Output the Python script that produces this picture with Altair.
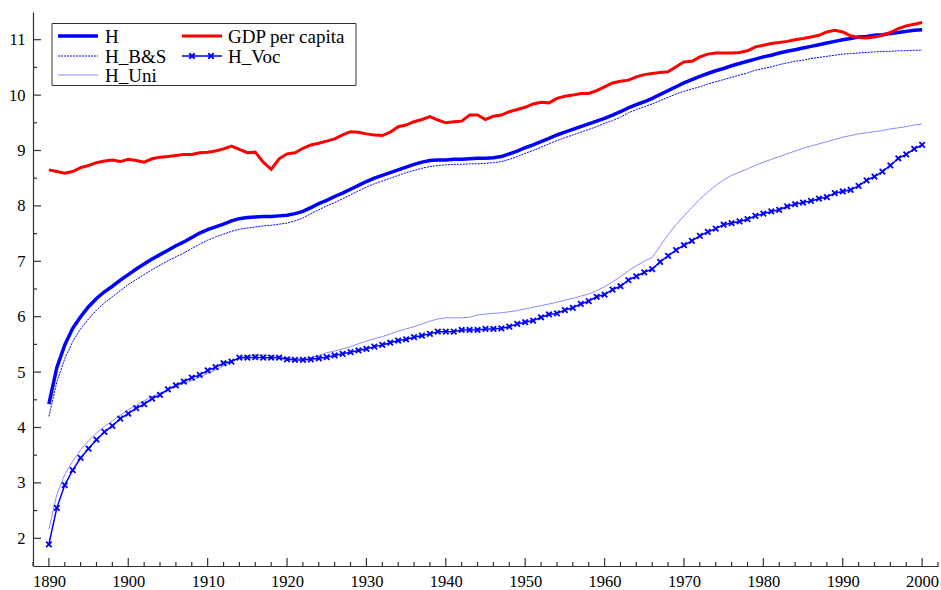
import altair as alt
import pandas as pd

# Annual series, 1890-2000 (log scale values)
years = list(range(1890, 2001))

h = [4.42, 5.08, 5.49, 5.79, 6.00, 6.18, 6.33, 6.45, 6.55, 6.66,
     6.76, 6.86, 6.95, 7.04, 7.12, 7.20, 7.28, 7.35, 7.43, 7.51,
     7.57, 7.62, 7.67, 7.73, 7.77, 7.79, 7.80, 7.81, 7.81, 7.82,
     7.83, 7.86, 7.90, 7.97, 8.04, 8.10, 8.17, 8.23, 8.30, 8.37,
     8.44, 8.50, 8.55, 8.60, 8.65, 8.70, 8.75, 8.79, 8.82, 8.83,
     8.83, 8.84, 8.84, 8.85, 8.86, 8.86, 8.87, 8.89, 8.94, 8.99,
     9.05, 9.10, 9.16, 9.22, 9.28, 9.33, 9.38, 9.43, 9.48, 9.53,
     9.58, 9.64, 9.70, 9.77, 9.83, 9.88, 9.94, 10.01, 10.08, 10.15,
     10.22, 10.28, 10.34, 10.39, 10.44, 10.48, 10.53, 10.57, 10.61, 10.65,
     10.69, 10.72, 10.76, 10.79, 10.82, 10.85, 10.88, 10.91, 10.94, 10.97,
     11.00, 11.02, 11.05, 11.06, 11.08, 11.09, 11.11, 11.13, 11.15, 11.17,
     11.18]

gdp = [8.65, 8.62, 8.59, 8.62, 8.69, 8.73, 8.78, 8.81, 8.83, 8.80,
       8.84, 8.82, 8.79, 8.85, 8.88, 8.89, 8.91, 8.93, 8.93, 8.96,
       8.97, 8.99, 9.03, 9.08, 9.02, 8.96, 8.97, 8.79, 8.66, 8.85,
       8.94, 8.96, 9.04, 9.10, 9.13, 9.17, 9.21, 9.28, 9.34, 9.33,
       9.30, 9.28, 9.27, 9.33, 9.43, 9.46, 9.52, 9.56, 9.61, 9.55,
       9.50, 9.52, 9.53, 9.64, 9.64, 9.56, 9.62, 9.64, 9.70, 9.74,
       9.78, 9.84, 9.87, 9.86, 9.94, 9.98, 10.00, 10.03, 10.03, 10.08,
       10.15, 10.22, 10.25, 10.27, 10.33, 10.37, 10.39, 10.41, 10.42, 10.51,
       10.60, 10.61, 10.69, 10.74, 10.76, 10.76, 10.76, 10.77, 10.80, 10.87,
       10.90, 10.93, 10.95, 10.97, 11.00, 11.02, 11.05, 11.08, 11.14, 11.17,
       11.14, 11.07, 11.04, 11.03, 11.05, 11.08, 11.13, 11.20, 11.25, 11.28,
       11.31]

h_bs = [4.20, 4.82, 5.24, 5.55, 5.78, 5.96, 6.12, 6.25, 6.36, 6.47,
        6.58, 6.67, 6.76, 6.85, 6.93, 7.01, 7.08, 7.15, 7.23, 7.31,
        7.38, 7.44, 7.49, 7.54, 7.58, 7.60, 7.62, 7.64, 7.65, 7.67,
        7.69, 7.73, 7.78, 7.86, 7.93, 8.00, 8.06, 8.13, 8.20, 8.27,
        8.34, 8.40, 8.45, 8.50, 8.55, 8.60, 8.64, 8.68, 8.71, 8.73,
        8.74, 8.75, 8.75, 8.76, 8.76, 8.77, 8.78, 8.80, 8.84, 8.89,
        8.95, 9.00, 9.06, 9.12, 9.18, 9.23, 9.28, 9.33, 9.38, 9.43,
        9.49, 9.54, 9.60, 9.68, 9.74, 9.79, 9.84, 9.90, 9.96, 10.02,
        10.07, 10.11, 10.15, 10.20, 10.24, 10.28, 10.32, 10.36, 10.40, 10.45,
        10.48, 10.51, 10.55, 10.58, 10.61, 10.63, 10.66, 10.68, 10.70, 10.72,
        10.74, 10.75, 10.76, 10.77, 10.78, 10.79, 10.79, 10.80, 10.80, 10.81,
        10.81]

h_uni = [2.16, 2.79, 3.15, 3.39, 3.60, 3.76, 3.90, 4.02, 4.12, 4.22,
         4.32, 4.40, 4.48, 4.56, 4.62, 4.68, 4.74, 4.80, 4.85, 4.91,
         4.98, 5.04, 5.11, 5.19, 5.26, 5.30, 5.31, 5.31, 5.30, 5.28,
         5.26, 5.24, 5.24, 5.26, 5.30, 5.35, 5.38, 5.42, 5.46, 5.51,
         5.56, 5.60, 5.64, 5.69, 5.74, 5.78, 5.82, 5.87, 5.92, 5.96,
         5.98, 5.98, 5.98, 5.99, 6.03, 6.05, 6.06, 6.07, 6.09, 6.11,
         6.14, 6.17, 6.20, 6.23, 6.26, 6.30, 6.33, 6.37, 6.41, 6.47,
         6.54, 6.63, 6.72, 6.83, 6.92, 7.00, 7.07, 7.28, 7.48, 7.66,
         7.82, 7.97, 8.12, 8.25, 8.37, 8.47, 8.55, 8.61, 8.67, 8.73,
         8.79, 8.84, 8.89, 8.94, 8.99, 9.04, 9.08, 9.12, 9.16, 9.20,
         9.24, 9.27, 9.30, 9.32, 9.34, 9.36, 9.39, 9.41, 9.43, 9.46,
         9.48]

h_voc = [1.89, 2.55, 2.96, 3.23, 3.45, 3.62, 3.78, 3.92, 4.03, 4.16,
         4.25, 4.35, 4.42, 4.52, 4.59, 4.69, 4.76, 4.83, 4.90, 4.95,
         5.03, 5.09, 5.16, 5.19, 5.26, 5.26, 5.27, 5.26, 5.26, 5.26,
         5.23, 5.22, 5.22, 5.23, 5.25, 5.27, 5.30, 5.33, 5.36, 5.39,
         5.42, 5.46, 5.49, 5.53, 5.57, 5.59, 5.63, 5.66, 5.69, 5.73,
         5.73, 5.73, 5.76, 5.76, 5.76, 5.78, 5.78, 5.79, 5.82, 5.87,
         5.90, 5.93, 5.99, 6.04, 6.06, 6.12, 6.16, 6.23, 6.28, 6.36,
         6.40, 6.49, 6.55, 6.66, 6.73, 6.80, 6.86, 6.99, 7.10, 7.20,
         7.29, 7.37, 7.46, 7.53, 7.59, 7.66, 7.69, 7.72, 7.76, 7.82,
         7.86, 7.90, 7.93, 7.99, 8.03, 8.06, 8.09, 8.13, 8.16, 8.23,
         8.26, 8.29, 8.36, 8.46, 8.53, 8.62, 8.73, 8.86, 8.93, 9.03,
         9.10]

series_names = ["H", "GDP per capita", "H_B&S", "H_Voc", "H_Uni"]

x_major = list(range(1890, 2001, 10))
x_minor = [v for v in range(1888, 2003, 2) if v % 10 != 0]
y_major = list(range(2, 12))
y_minor = [v + 0.5 for v in range(2, 11)]

df = pd.DataFrame({"year": years, "H": h, "GDP": gdp, "H_BS": h_bs,
                   "H_Uni": h_uni, "H_Voc": h_voc})

W, HT = 905, 554
FONT = "Liberation Serif"
BLUE = "#0000ff"
AXIS_COLOR = "#333333"

xs = alt.Scale(domain=[1888, 2002], nice=False, zero=False)
ys = alt.Scale(domain=[1.5, 11.5], nice=False, zero=False)

x_axis = alt.Axis(values=x_major, format="d", title=None, ticks=False, tickSize=0,
                  labelPadding=7, labelFont=FONT, labelFontSize=16.5, labelColor="black",
                  domainColor=AXIS_COLOR, domainWidth=1.2, grid=False,
                  labelFlush=False, labelOverlap=False)
y_axis = alt.Axis(values=y_major, format="d", title=None, ticks=False, tickSize=0,
                  labelPadding=8, labelFont=FONT, labelFontSize=16.5, labelColor="black",
                  domainColor=AXIS_COLOR, domainWidth=1.2, grid=False,
                  labelFlush=False, labelOverlap=False)

base = alt.Chart(df)


def series_line(field, **mark):
    return base.mark_line(**mark).encode(
        x=alt.X("year:Q", scale=xs, axis=x_axis),
        y=alt.Y(f"{field}:Q", scale=ys, axis=y_axis),
    )


X_PATH = "M-1,-1L1,1M-1,1L1,-1"

uni = series_line("H_Uni", color="#8a8aff", strokeWidth=1)
bs = series_line("H_BS", color=BLUE, strokeWidth=1, strokeDash=[2, 1])
voc = series_line("H_Voc", color=BLUE, strokeWidth=1.5)
voc_pts = base.mark_point(shape=X_PATH, size=30, strokeWidth=1.8, color=BLUE,
                          filled=False, opacity=1).encode(
    x=alt.X("year:Q", scale=xs, axis=x_axis),
    y=alt.Y("H_Voc:Q", scale=ys, axis=y_axis),
)
h_line = series_line("H", color=BLUE, strokeWidth=3.5)
gdp_line = series_line("GDP", color="#ff0000", strokeWidth=3)


# inward tick marks on both axes
def x_ticks(vals, length):
    return alt.Chart(pd.DataFrame({"t": vals})).mark_rule(
        color=AXIS_COLOR, strokeWidth=1.2).encode(
        x=alt.X("t:Q", scale=xs, axis=x_axis),
        y=alt.value(HT), y2=alt.value(HT - length))


def y_ticks(vals, length):
    return alt.Chart(pd.DataFrame({"t": vals})).mark_rule(
        color=AXIS_COLOR, strokeWidth=1.2).encode(
        y=alt.Y("t:Q", scale=ys, axis=y_axis),
        x=alt.value(0), x2=alt.value(length))


ticks = [x_ticks(x_major, 8), x_ticks(x_minor, 4), y_ticks(y_major, 8), y_ticks(y_minor, 4)]

# legend box
one = pd.DataFrame({"k": [0]})
legend_box = alt.Chart(one).mark_rect(fill="white", stroke="#333333", strokeWidth=1).encode(
    x=alt.value(19), x2=alt.value(323), y=alt.value(11.5), y2=alt.value(73.5))

col_sym = [(25, 65), (149, 189)]
col_txt = [72, 195]
row_y = [24, 44, 63]
entry_pos = [(0, 0), (1, 0), (0, 1), (1, 1), (0, 2)]
entry_style = [
    dict(color=BLUE, strokeWidth=3.5),
    dict(color="#ff0000", strokeWidth=3),
    dict(color=BLUE, strokeWidth=1, strokeDash=[2, 1]),
    dict(color=BLUE, strokeWidth=1.5),
    dict(color="#8a8aff", strokeWidth=1),
]

legend_layers = [legend_box]
for name, (c, r), style in zip(series_names, entry_pos, entry_style):
    d = pd.DataFrame({"label": [name]})
    x0, x1 = col_sym[c]
    yy = row_y[r]
    legend_layers.append(alt.Chart(d).mark_rule(**style).encode(
        x=alt.value(x0), x2=alt.value(x1), y=alt.value(yy)))
    legend_layers.append(alt.Chart(d).mark_text(
        font=FONT, fontSize=19, align="left", baseline="middle", color="black").encode(
        x=alt.value(col_txt[c]), y=alt.value(yy + 1), text="label:N"))
    if name == "H_Voc":
        for mx in (x0 + 10, x0 + 29):
            legend_layers.append(alt.Chart(d).mark_point(
                shape=X_PATH, size=30, strokeWidth=1.8, color=BLUE, filled=False,
                opacity=1).encode(x=alt.value(mx), y=alt.value(yy)))

chart = alt.layer(
    uni, bs, voc, voc_pts, h_line, gdp_line, *ticks, *legend_layers
).properties(
    width=W, height=HT,
    padding={"left": 33, "top": 12, "right": 3, "bottom": 24},
    autosize="none",
    background="white",
).configure_view(stroke=None)

chart.save("out.html", embed_options={"renderer": "svg", "actions": False})
